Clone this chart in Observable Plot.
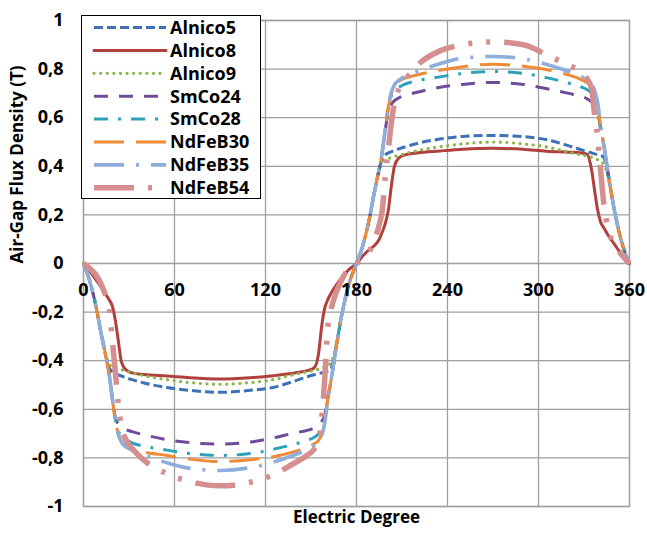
<!DOCTYPE html>
<html>
<head>
<meta charset="utf-8">
<script src="https://cdn.jsdelivr.net/npm/d3@7"></script>
<script src="https://cdn.jsdelivr.net/npm/@observablehq/plot@0.6"></script>
<style>
  html, body { margin: 0; padding: 0; background: #fff; }
  #wrap { position: relative; width: 647px; height: 533px; }
  #legend { position: absolute; left: 81px; top: 15px; width: 178px; height: 182px; border: 1px solid #000; background: #fff; }
</style>
</head>
<body>
<div id="wrap"><div id="chart"></div><div id="legend"></div></div>
<script>
// Electric degree sample positions
const theta = [0,4,8,12,15,17,19,21,23,25,28,32,40,55,70,90,110,125,140,148,152,155,157,159,161,163,166,170,175,180,
  184,188,192,195,197,199,201,203,205,208,212,220,235,250,270,290,305,320,328,332,335,337,339,341,343,346,350,355,360];

const seriesNames = ["Alnico5","Alnico8","Alnico9","SmCo24","SmCo28","NdFeB30","NdFeB35","NdFeB54"];

const alnico5 = [0,-0.07,-0.17,-0.3,-0.39,-0.43,-0.445,-0.452,-0.458,-0.463,-0.47,-0.478,-0.492,-0.51,-0.522,-0.53,-0.522,-0.51,-0.482,-0.465,-0.458,-0.453,-0.45,-0.447,-0.443,-0.435,-0.36,-0.22,-0.085,0,
  0.07,0.17,0.3,0.39,0.43,0.447,0.455,0.46,0.465,0.472,0.48,0.494,0.512,0.523,0.527,0.522,0.51,0.484,0.468,0.46,0.455,0.451,0.448,0.445,0.437,0.36,0.22,0.085,0];
const alnico8 = [0,-0.03,-0.065,-0.1,-0.13,-0.15,-0.175,-0.235,-0.32,-0.405,-0.438,-0.45,-0.457,-0.463,-0.47,-0.475,-0.47,-0.462,-0.45,-0.44,-0.43,-0.37,-0.26,-0.185,-0.15,-0.125,-0.095,-0.06,-0.025,0,
  0.03,0.055,0.075,0.1,0.13,0.165,0.22,0.32,0.4,0.435,0.447,0.455,0.463,0.47,0.474,0.47,0.462,0.458,0.455,0.45,0.385,0.3,0.22,0.17,0.148,0.115,0.08,0.035,0];
const alnico9 = [0,-0.07,-0.17,-0.3,-0.38,-0.415,-0.425,-0.43,-0.433,-0.437,-0.442,-0.45,-0.462,-0.478,-0.49,-0.497,-0.49,-0.478,-0.455,-0.445,-0.44,-0.435,-0.43,-0.425,-0.418,-0.41,-0.35,-0.22,-0.085,0,
  0.07,0.17,0.3,0.38,0.415,0.427,0.432,0.436,0.44,0.445,0.452,0.464,0.48,0.492,0.5,0.492,0.48,0.458,0.447,0.442,0.437,0.432,0.427,0.42,0.41,0.35,0.22,0.085,0];
const smco24 = [0,-0.07,-0.17,-0.3,-0.39,-0.46,-0.55,-0.635,-0.66,-0.672,-0.683,-0.692,-0.705,-0.725,-0.737,-0.743,-0.735,-0.718,-0.696,-0.686,-0.676,-0.663,-0.65,-0.625,-0.55,-0.49,-0.37,-0.22,-0.085,0,
  0.07,0.17,0.3,0.39,0.46,0.55,0.625,0.655,0.67,0.682,0.692,0.705,0.725,0.737,0.745,0.737,0.72,0.7,0.688,0.678,0.665,0.652,0.628,0.55,0.49,0.37,0.22,0.085,0];
const smco28 = [0,-0.07,-0.17,-0.3,-0.39,-0.46,-0.555,-0.64,-0.69,-0.71,-0.725,-0.738,-0.752,-0.768,-0.782,-0.79,-0.782,-0.765,-0.742,-0.727,-0.716,-0.702,-0.685,-0.645,-0.56,-0.49,-0.37,-0.22,-0.085,0,
  0.07,0.17,0.3,0.39,0.46,0.555,0.64,0.69,0.71,0.725,0.738,0.752,0.768,0.782,0.79,0.782,0.765,0.742,0.727,0.716,0.702,0.685,0.645,0.56,0.49,0.37,0.22,0.085,0];
const ndfeb30 = [0,-0.07,-0.17,-0.3,-0.39,-0.46,-0.555,-0.645,-0.7,-0.73,-0.75,-0.763,-0.776,-0.79,-0.805,-0.815,-0.808,-0.795,-0.772,-0.755,-0.742,-0.728,-0.705,-0.655,-0.56,-0.49,-0.37,-0.22,-0.085,0,
  0.07,0.17,0.3,0.39,0.46,0.555,0.645,0.7,0.73,0.75,0.763,0.776,0.795,0.81,0.82,0.812,0.798,0.775,0.757,0.744,0.73,0.707,0.657,0.56,0.49,0.37,0.22,0.085,0];
const ndfeb35 = [0,-0.07,-0.17,-0.3,-0.39,-0.46,-0.555,-0.645,-0.705,-0.735,-0.755,-0.768,-0.788,-0.82,-0.843,-0.852,-0.84,-0.818,-0.785,-0.765,-0.75,-0.735,-0.71,-0.66,-0.565,-0.49,-0.37,-0.22,-0.085,0,
  0.07,0.17,0.3,0.39,0.46,0.555,0.645,0.705,0.735,0.755,0.77,0.79,0.822,0.845,0.852,0.842,0.82,0.79,0.77,0.755,0.738,0.712,0.662,0.565,0.49,0.37,0.22,0.085,0];
const ndfeb54 = [0,-0.02,-0.045,-0.09,-0.14,-0.19,-0.315,-0.447,-0.58,-0.67,-0.725,-0.76,-0.81,-0.865,-0.897,-0.915,-0.9,-0.87,-0.818,-0.787,-0.765,-0.725,-0.64,-0.48,-0.27,-0.195,-0.13,-0.07,-0.02,0,
  0.02,0.045,0.1,0.16,0.22,0.36,0.47,0.58,0.66,0.72,0.755,0.815,0.875,0.9,0.912,0.9,0.86,0.815,0.79,0.76,0.72,0.61,0.52,0.38,0.25,0.14,0.08,0.035,0];

const seriesValues = [alnico5, alnico8, alnico9, smco24, smco28, ndfeb30, ndfeb35, ndfeb54];

const xTicks = [0, 60, 120, 180, 240, 300, 360];
const yTicks = [-1, -0.8, -0.6, -0.4, -0.2, 0, 0.2, 0.4, 0.6, 0.8, 1];

// styles
const colors = ["#3E72B6","#B1403C","#8DB54A","#6E4C9A","#2EA1BA","#EF8A36","#8EADDB","#D48F8E"];
const dashes = ["9,4", null, "0.1,6.5", "14,11", "14,10,3,10", "30,12", "30,12,3,12", "40,14,4,14,4,14"];
const widths = [3, 3, 3.2, 3, 3, 3, 3.6, 5.5];
const caps = ["butt","round","round","butt","butt","butt","butt","butt"];

const FONT = "'Open Sans', sans-serif";
const fmt = d => String(Math.round(d * 10) / 10).replace(".", ",");

const lineMarks = seriesNames.map((name, k) => {
  const data = theta.map((t, i) => ({t, b: seriesValues[k][i]}));
  return Plot.line(data, {
    x: "t", y: "b", curve: "monotone-x",
    stroke: colors[k], strokeWidth: widths[k],
    strokeDasharray: dashes[k] || undefined,
    strokeLinecap: caps[k], strokeLinejoin: "round"
  });
});

const chart = Plot.plot({
  width: 647, height: 533,
  marginLeft: 83, marginRight: 18, marginTop: 20, marginBottom: 27,
  style: {fontFamily: FONT, fontSize: "18px", fontWeight: "bold", background: "#fff", color: "#000"},
  x: {domain: [0, 360], axis: null},
  y: {domain: [-1, 1], axis: null},
  marks: [
    Plot.gridY(yTicks, {stroke: "#9f9f9f", strokeOpacity: 1, strokeWidth: 1.3}),
    Plot.gridX(xTicks, {stroke: "#9f9f9f", strokeOpacity: 1, strokeWidth: 1.3}),
    Plot.frame({stroke: "#9f9f9f", strokeWidth: 1.3}),
    ...lineMarks,
    Plot.text(xTicks, {x: d => d, y: () => 0, dy: 27, text: d => String(d), fontSize: 18, fontWeight: "bold", fill: "#000"}),
    Plot.axisY(yTicks, {tickSize: 0, tickPadding: 20, tickFormat: fmt, label: null, fontSize: 18, fontWeight: "bold", fill: "#000"}),
    Plot.text(["Electric Degree"], {frameAnchor: "bottom", dy: 16, text: d => d, fontSize: 17, fontWeight: "bold", fill: "#000"}),
    Plot.text(["Air-Gap Flux Density (T)"], {frameAnchor: "left", rotate: -90, dx: -66, text: d => d, fontSize: 17, fontWeight: "bold", fill: "#000"})
  ]
});
document.getElementById("chart").appendChild(chart);

// Legend
const lg = d3.select("#legend").append("svg").attr("width", 178).attr("height", 182)
  .style("font-family", FONT).style("font-weight", "bold").style("font-size", "18px");
seriesNames.forEach((name, k) => {
  const y = 11.5 + k * 22.9;
  lg.append("line").attr("x1", 12).attr("x2", 84).attr("y1", y).attr("y2", y)
    .attr("stroke", colors[k]).attr("stroke-width", widths[k])
    .attr("stroke-dasharray", dashes[k]).attr("stroke-linecap", caps[k]);
  lg.append("text").attr("x", 88).attr("y", y).attr("dy", "0.35em").attr("fill", "#000").text(name);
});
</script>
</body>
</html>
